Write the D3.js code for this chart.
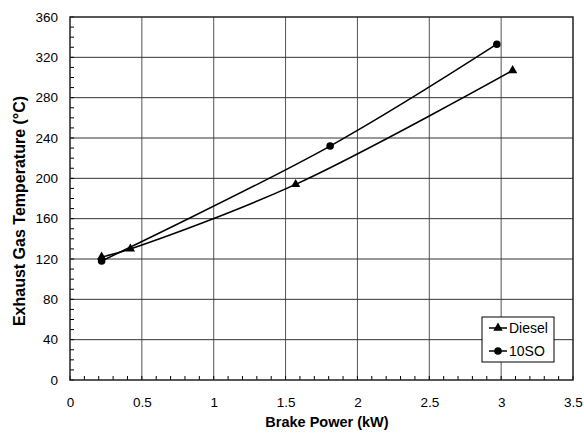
<!DOCTYPE html>
<html>
<head>
<meta charset="utf-8">
<script src="https://cdn.jsdelivr.net/npm/d3@7"></script>
<style>
  body { margin: 0; background: #fff; }
  text { font-family: "Liberation Sans", Arial, sans-serif; fill: #000; }
</style>
</head>
<body>
<script>
var margin = { top: 17, right: 11, bottom: 53, left: 70 },
    width = 584,
    height = 433;

// values
var dieselPower = [0.22, 0.42, 1.57, 3.08];
var dieselTemp = [122, 130, 194, 307];
var soPower = [0.22, 1.81, 2.97];
var soTemp = [118, 232, 333];

var xTicks = [0, 0.5, 1, 1.5, 2, 2.5, 3, 3.5];
var yTicks = [0, 40, 80, 120, 160, 200, 240, 280, 320, 360];

var x = d3.scaleLinear([0, 3.5], [margin.left, width - margin.right]);
var y = d3.scaleLinear([0, 360], [height - margin.bottom, margin.top]);

const svg = d3.select("body")
    .append("svg")
    .attr("width", width)
    .attr("height", height);

// gridlines
svg.append("g")
    .selectAll("line")
    .data(xTicks.slice(1, -1))
    .join("line")
    .attr("x1", d => x(d)).attr("x2", d => x(d))
    .attr("y1", y(0)).attr("y2", y(360))
    .attr("stroke", "#555").attr("stroke-width", 1);

svg.append("g")
    .selectAll("line")
    .data(yTicks.slice(1, -1))
    .join("line")
    .attr("y1", d => y(d)).attr("y2", d => y(d))
    .attr("x1", x(0)).attr("x2", x(3.5))
    .attr("stroke", "#333").attr("stroke-width", 1);

// minor ticks, pointing into the plot
svg.append("g")
    .selectAll("line")
    .data(d3.range(0, 361, 10))
    .join("line")
    .attr("x1", x(0)).attr("x2", x(0) + 4)
    .attr("y1", d => y(d)).attr("y2", d => y(d))
    .attr("stroke", "#000");

svg.append("g")
    .selectAll("line")
    .data(d3.range(0, 36).map(i => i / 10))
    .join("line")
    .attr("x1", d => x(d)).attr("x2", d => x(d))
    .attr("y1", y(0)).attr("y2", y(0) - 4)
    .attr("stroke", "#000");

// frame
svg.append("rect")
    .attr("x", x(0)).attr("y", y(360))
    .attr("width", x(3.5) - x(0))
    .attr("height", y(0) - y(360))
    .attr("fill", "none")
    .attr("stroke", "#222")
    .attr("stroke-width", 1.5);

// axes labels
svg.append("g")
    .attr("transform", `translate(0, ${y(0)})`)
    .call(d3.axisBottom(x).tickValues(xTicks).tickSize(0).tickPadding(17).tickFormat(d3.format("")))
    .call(g => g.select(".domain").remove())
    .call(g => g.selectAll("text").attr("font-size", 13.5).attr("fill", "#000"));

svg.append("g")
    .attr("transform", `translate(${x(0)}, 0)`)
    .call(d3.axisLeft(y).tickValues(yTicks).tickSize(0).tickPadding(12))
    .call(g => g.select(".domain").remove())
    .call(g => g.selectAll("text").attr("font-size", 13.5).attr("fill", "#000"));

svg.append("text")
    .attr("x", 327)
    .attr("y", 427)
    .attr("text-anchor", "middle")
    .attr("font-size", 14.5)
    .attr("font-weight", "bold")
    .text("Brake Power (kW)");

svg.append("text")
    .attr("transform", "translate(25, 211) rotate(-90)")
    .attr("text-anchor", "middle")
    .attr("font-size", 16)
    .attr("font-weight", "bold")
    .text("Exhaust Gas Temperature (°C)");

// series
var line = d3.line().curve(d3.curveCatmullRom)
    .x(d => x(d[0])).y(d => y(d[1]));

var diesel = d3.zip(dieselPower, dieselTemp);
var so = d3.zip(soPower, soTemp);

svg.append("path").datum(diesel)
    .attr("d", line).attr("fill", "none")
    .attr("stroke", "#000").attr("stroke-width", 1.5);
svg.append("path").datum(so)
    .attr("d", line).attr("fill", "none")
    .attr("stroke", "#000").attr("stroke-width", 1.5);

var tri = d3.symbol().type(d3.symbolTriangle).size(38);

svg.append("g")
    .selectAll("path")
    .data(diesel)
    .join("path")
    .attr("d", tri)
    .attr("transform", d => `translate(${x(d[0])}, ${y(d[1])})`)
    .attr("fill", "#000");

svg.append("g")
    .selectAll("circle")
    .data(so)
    .join("circle")
    .attr("cx", d => x(d[0])).attr("cy", d => y(d[1]))
    .attr("r", 3.8)
    .attr("fill", "#000");

// legend
var legend = svg.append("g").attr("transform", "translate(482, 317)");
legend.append("rect")
    .attr("width", 72).attr("height", 45)
    .attr("fill", "#fff").attr("stroke", "#000").attr("stroke-width", 1);

var items = [{ name: "Diesel", sym: "tri", yy: 11 }, { name: "10SO", sym: "circle", yy: 34 }];
items.forEach(function (it) {
    legend.append("line")
        .attr("x1", 7).attr("x2", 25)
        .attr("y1", it.yy).attr("y2", it.yy)
        .attr("stroke", "#000").attr("stroke-width", 1.5);
    if (it.sym === "tri") {
        legend.append("path").attr("d", tri)
            .attr("transform", `translate(16, ${it.yy})`).attr("fill", "#000");
    } else {
        legend.append("circle").attr("cx", 16).attr("cy", it.yy).attr("r", 3.8).attr("fill", "#000");
    }
    legend.append("text")
        .attr("x", 27).attr("y", it.yy + 5)
        .attr("font-size", 14)
        .text(it.name);
});
</script>
</body>
</html>
